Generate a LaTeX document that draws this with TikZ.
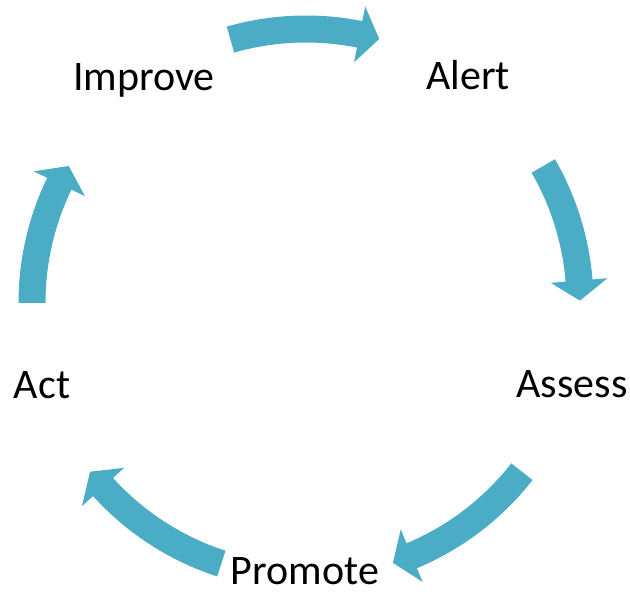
\documentclass[tikz,border=0pt]{standalone}
\usepackage{fontspec}
\setmainfont{Carlito}
\definecolor{cycleblue}{RGB}{75,172,198}

\begin{document}
\begin{tikzpicture}[
        x=1pt, y=1pt,
        every node/.style={font=\fontsize{42}{50}\selectfont, anchor=base, inner sep=0pt},
        cyclearrow/.style={fill=cycleblue, draw=none}
      ]
      \useasboundingbox (-306,-293) rectangle (324,303);
      \node (improve) at (-162,212) {Improve};
      \node (alert)   at (162,213)  {Alert};
      \node (assess)  at (266,-95)  {Assess};
      \node (promote) at (-1,-282)  {Promote};
      \node (act)     at (-264,-96) {Act};
      \foreach \from/\to in {106/74.5, 30/0.5, -38/-71.5, -108/-142, 180/150} {
        \pgfmathsetmacro\neck{\to+4.2}
        \fill[cyclearrow] (\from:287.5) arc[start angle=\from, end angle=\neck, radius=287.5]
          -- (\neck:302.5) -- (\to:274) -- (\neck:245.5) -- (\neck:260.5)
          arc[start angle=\neck, end angle=\from, radius=260.5] -- cycle;
      }
    \end{tikzpicture}
\end{document}
